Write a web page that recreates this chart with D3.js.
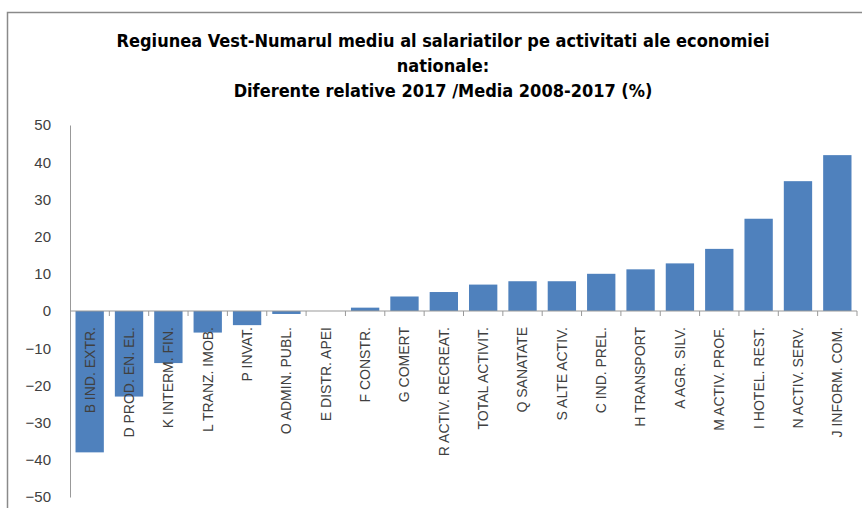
<!DOCTYPE html>
<html>
<head>
<meta charset="utf-8">
<script src="https://cdn.jsdelivr.net/npm/d3@7"></script>
<style>
  html, body { margin: 0; padding: 0; background: #fff; }
  svg { display: block; }
</style>
</head>
<body>
<div id="chart"></div>
<script>
// Data
const categories = [
    "B IND. EXTR.", "D PROD. EN. EL.", "K INTERM. FIN.", "L TRANZ. IMOB.",
    "P INVAT.", "O ADMIN. PUBL.", "E DISTR. APEI", "F CONSTR.",
    "G COMERT", "R ACTIV. RECREAT.", "TOTAL ACTIVIT.", "Q SANATATE",
    "S ALTE ACTIV.", "C IND. PREL.", "H TRANSPORT", "A AGR. SILV.",
    "M ACTIV. PROF.", "I HOTEL. REST.", "N ACTIV. SERV.", "J INFORM. COM."
];
const values = [-38, -23, -14, -5.8, -3.8, -0.8, 0, 0.9, 3.9, 5.1,
    7.1, 8, 8, 10, 11.2, 12.8, 16.7, 24.8, 34.9, 41.9];
const yTicks = [50, 40, 30, 20, 10, 0, -10, -20, -30, -40, -50];
const titleLines = [
    "Regiunea Vest-Numarul mediu al salariatilor pe activitati ale economiei",
    "nationale:",
    "Diferente relative 2017 /Media 2008-2017 (%)"
];

const W = 862, H = 508;
const plot = { left: 70, right: 857, top: 125, bottom: 497 };
const BAR_COLOR = "#4f81bd";
const AXIS_COLOR = "#999999";
const TEXT_COLOR = "#404040";

const svg = d3.select("#chart").append("svg")
    .attr("width", W)
    .attr("height", H);

// chart frame (right and bottom edges fall outside the picture)
svg.append("path")
    .attr("d", `M 7.5 ${H} V 12.5 H ${W}`)
    .attr("fill", "none")
    .attr("stroke", "#8a8a8a")
    .attr("stroke-width", 1.5);

// title
const title = svg.append("text")
    .attr("text-anchor", "middle")
    .attr("font-family", "'Liberation Sans Narrow', 'DejaVu Sans Condensed', 'Liberation Sans', sans-serif")
    .attr("font-weight", "bold")
    .attr("font-size", 18)
    .attr("fill", "#000");
titleLines.forEach((t, i) => {
    title.append("tspan")
        .attr("x", 443)
        .attr("y", 47 + i * 25)
        .text(t);
});

const x = d3.scaleBand()
    .domain(categories)
    .range([plot.left, plot.right])
    .paddingInner(0.28)
    .paddingOuter(0.14);

const y = d3.scaleLinear()
    .domain([-50, 50])
    .range([plot.bottom, plot.top]);

// y axis: line only, labels to the left
const yAxis = svg.append("g")
    .attr("transform", `translate(${plot.left},0)`)
    .call(d3.axisLeft(y).tickValues(yTicks).tickSize(0).tickPadding(19).tickFormat(d3.format("d")));
yAxis.select(".domain").attr("stroke", AXIS_COLOR);
yAxis.selectAll("text")
    .attr("font-family", "'Liberation Sans', Arial, sans-serif")
    .attr("font-size", 15)
    .attr("fill", TEXT_COLOR);

// bars
svg.append("g")
    .selectAll("rect")
    .data(values)
    .join("rect")
    .attr("x", (d, i) => x(categories[i]))
    .attr("y", d => y(Math.max(0, d)))
    .attr("width", x.bandwidth())
    .attr("height", d => Math.abs(y(d) - y(0)))
    .attr("fill", BAR_COLOR);

// x axis at zero, ticks between categories
const step = x.step();
const boundaries = d3.range(categories.length + 1).map(i => plot.left + i * step);
const xAxis = svg.append("g");
xAxis.append("line")
    .attr("x1", plot.left).attr("x2", plot.right)
    .attr("y1", y(0)).attr("y2", y(0))
    .attr("stroke", AXIS_COLOR);
xAxis.selectAll(".tick")
    .data(boundaries.slice(1))
    .join("line")
    .attr("class", "tick")
    .attr("x1", d => d).attr("x2", d => d)
    .attr("y1", y(0)).attr("y2", y(0) + 5)
    .attr("stroke", AXIS_COLOR);

// category labels, rotated, ending just below the zero line
svg.append("g")
    .selectAll("text")
    .data(categories)
    .join("text")
    .attr("transform", d => `translate(${x(d) + x.bandwidth() / 2},${y(0) + 16}) rotate(-90)`)
    .attr("text-anchor", "end")
    .attr("dy", "0.35em")
    .attr("font-family", "'Liberation Sans', Arial, sans-serif")
    .attr("font-size", 14)
    .attr("fill", TEXT_COLOR)
    .text(d => d);
</script>
</body>
</html>
